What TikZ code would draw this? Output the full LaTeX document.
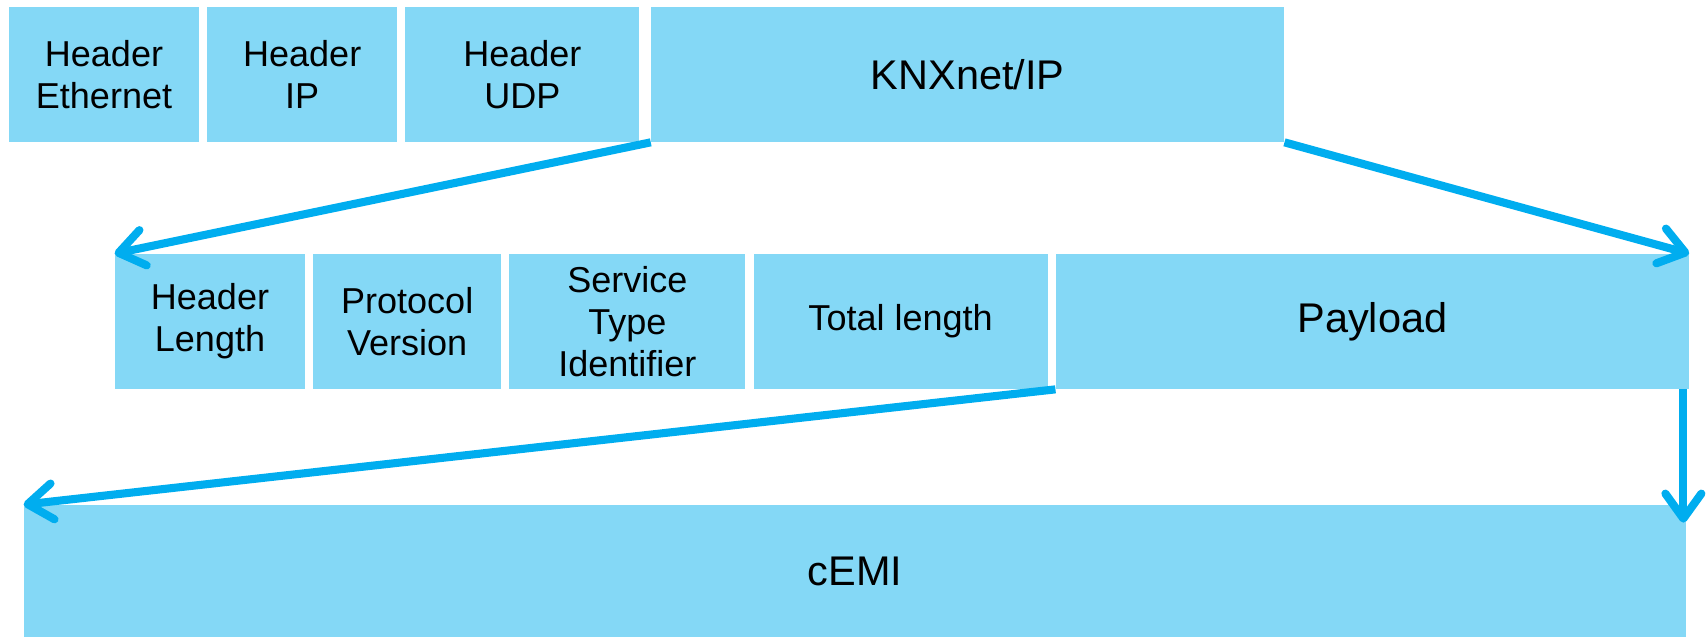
\documentclass[tikz,border=0pt]{standalone}
\usepackage{fontspec}
\setmainfont{Liberation Sans}
\usetikzlibrary{positioning}
\usetikzlibrary{arrows.meta}
\definecolor{fieldblue}{RGB}{132,216,246}
\definecolor{arrowblue}{RGB}{0,173,239}

\begin{document}
\begin{tikzpicture}[node distance=0.15cm,
	field/.style={rectangle, fill=fieldblue, inner sep=0pt, minimum height=2.7cm, align=center, font=\fontsize{20.5}{23.9}\selectfont},
	big field/.style={field, font=\fontsize{23.6}{27}\selectfont},
	link/.style={arrowblue, line width=4.6pt, -{Straight Barb[length=0.5cm, width=0.72cm, round]}}]
			\useasboundingbox (0,0) rectangle (34.16,-12.74);
			% Nodes
			\node[field, minimum width=3.8cm] (1) at (2.08,-1.49) {Header\\Ethernet};
			\node[field, minimum width=3.8cm] (2) [right=of 1] {Header\\IP};
			\node[field, minimum width=4.68cm] (3) [right=of 2] {Header\\UDP};
			\node[big field, minimum width=12.66cm] (4) [right=0.22cm of 3] {KNXnet/IP};
			
			\node[field, minimum width=3.8cm] (5) at (4.2,-6.43) {Header\\Length};
			\node[field, minimum width=3.76cm] (6) [right=of 5] {Protocol\\Version};
			\node[field, minimum width=4.72cm] (7) [right=of 6] {Service\\Type\\Identifier};
			\node[field, minimum width=5.88cm] (8) [right=of 7] {Total length};
			\node[big field, minimum width=12.66cm] (9) [right=of 8] {Payload};
			
			\node[big field, minimum width=33.24cm, minimum height=2.64cm] (10) at (17.1,-11.42) {cEMI};
			\coordinate (11) at ([xshift=-0.06cm, yshift=-0.36cm]10.north east);
			
			% Arrows
			\path[link]
			(4.south west) edge (5.north west)
			(4.south east) edge (9.north east)
			(9.south west) edge (10.north west);
			
			\draw[link] (9.south east -| 11) -- (11);
			
		\end{tikzpicture}
\end{document}
